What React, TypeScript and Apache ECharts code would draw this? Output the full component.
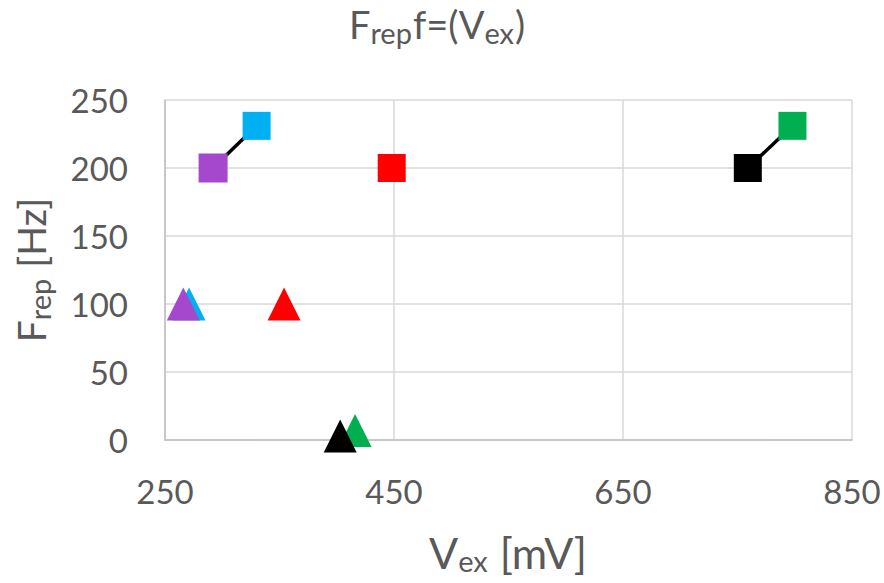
import React, { useEffect, useRef } from "react";
import * as echarts from "echarts";

// Data (order: purple, cyan, red, black, green)
const seriesNames = ["purple", "cyan", "red", "black", "green"];
const squareX = [292, 330, 448, 759, 798];
const squareY = [200, 231, 200, 200, 231];
const triangleX = [266, 271, 354, 403, 416];
const triangleY = [100, 100, 100, 3, 7];
// connecting lines: pairs of square indices
const linkPairs = [
  [0, 1],
  [3, 4],
];
const xTicks = { min: 250, max: 850, interval: 200 };
const yTicks = { min: 0, max: 250, interval: 50 };

// Texts with subscripts: [text, isSubscript]
const titleParts: [string, boolean][] = [["F", false], ["rep", true], ["f=(V", false], ["ex", true], [")", false]];
const xNameParts: [string, boolean][] = [["V", false], ["ex", true], [" [mV]", false]];
const yNameParts: [string, boolean][] = [["F", false], ["rep", true], [" [Hz]", false]];

const colorMap: Record<string, string> = {
  purple: "#A548CE",
  cyan: "#00B0F0",
  red: "#FF0000",
  black: "#000000",
  green: "#00B050",
};

const FONT = "Lato";
const TXT = "#595959";

let measureCtx: CanvasRenderingContext2D | null = null;
function measure(text: string, size: number) {
  if (!measureCtx) measureCtx = document.createElement("canvas").getContext("2d");
  measureCtx!.font = `${size}px ${FONT}`;
  return measureCtx!.measureText(text).width;
}

function subText(parts: [string, boolean][], main: number, sub: number, drop: number) {
  const items: any[] = [];
  let cursor = 0;
  parts.forEach(([t, isSub]) => {
    const size = isSub ? sub : main;
    const w = measure(t, size) + (isSub ? 1 : 0);
    items.push({
      type: "text",
      x: cursor,
      y: isSub ? (main - sub) * 0.3 + drop : 0,
      style: {
        text: t,
        fontSize: size,
        fontFamily: FONT,
        fill: TXT,
        align: "left",
        verticalAlign: "middle",
        textAlign: "left",
        textVerticalAlign: "middle",
      },
    });
    cursor += w;
  });
  items.forEach((it) => (it.x -= cursor / 2));
  return items;
}

export default function App() {
  const ref = useRef<HTMLDivElement>(null);
  useEffect(() => {
    if (!ref.current) return;
    const chart = echarts.init(ref.current, null, { renderer: "svg" });

    const drawOrder = ["cyan", "green", "red", "purple", "black"];
    const markerSeries: any[] = [];
    drawOrder.forEach((name) => {
      const i = seriesNames.indexOf(name);
      markerSeries.push({
        type: "scatter",
        name: name + "-tri",
        symbol: "triangle",
        symbolSize: [33, 33],
        itemStyle: { color: colorMap[name], opacity: 1 },
        data: [[triangleX[i], triangleY[i]]],
        z: 3,
      });
    });
    drawOrder.forEach((name) => {
      const i = seriesNames.indexOf(name);
      markerSeries.push({
        type: "scatter",
        name: name + "-sq",
        symbol: "rect",
        symbolSize: name === "purple" ? 29 : 28,
        itemStyle: { color: colorMap[name], opacity: 1 },
        data: [[squareX[i], squareY[i]]],
        z: 3,
      });
    });
    const lineSeries = linkPairs.map((p, k) => ({
      type: "line",
      name: "link" + k,
      symbol: "none",
      lineStyle: { color: "#000000", width: 3.5 },
      data: p.map((i) => [squareX[i], squareY[i]]),
      z: 2,
    }));

    chart.setOption({
      animation: false,
      graphic: [
        { type: "group", x: 437, y: 24, children: subText(titleParts, 38, 29, 6) },
        { type: "group", x: 508, y: 552, children: subText(xNameParts, 43, 29, 4) },
        { type: "group", x: 31, y: 270, rotation: Math.PI / 2, children: subText(yNameParts, 39, 29, 5) },
      ],
      grid: { left: 165, right: 32, top: 100, bottom: 143, outerBoundsMode: "none", containLabel: false },
      xAxis: {
        type: "value",
        min: xTicks.min,
        max: xTicks.max,
        interval: xTicks.interval,
        axisLine: { show: true, lineStyle: { color: "#BFBFBF", width: 1.5 } },
        axisTick: { show: false },
        splitLine: { show: true, lineStyle: { color: "#D9D9D9", width: 1.5 } },
        axisLabel: { fontFamily: FONT, fontSize: 33, color: TXT, margin: 34 },
      },
      yAxis: {
        type: "value",
        min: yTicks.min,
        max: yTicks.max,
        interval: yTicks.interval,
        axisLine: { show: true, lineStyle: { color: "#BFBFBF", width: 1.5 } },
        axisTick: { show: false },
        splitLine: { show: true, lineStyle: { color: "#D9D9D9", width: 1.5 } },
        axisLabel: { fontFamily: FONT, fontSize: 33, color: TXT, margin: 37 },
      },
      series: [...lineSeries, ...markerSeries],
    });
    return () => chart.dispose();
  }, []);
  return <div ref={ref} style={{ width: 884, height: 583, position: "absolute", left: 0, top: 0, background: "#fff" }} />;
}
